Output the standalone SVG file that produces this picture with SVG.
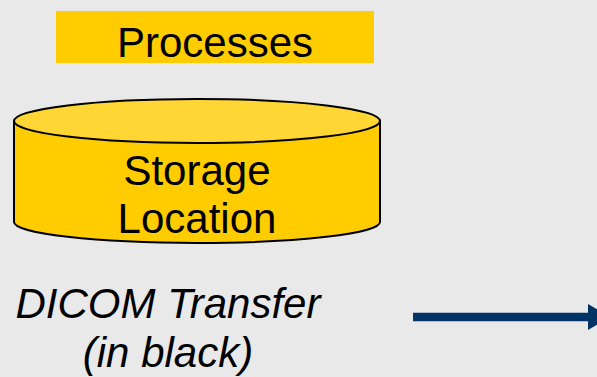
<svg xmlns="http://www.w3.org/2000/svg" width="597" height="377" viewBox="0 0 597 377">
<defs>
<style>
.t{font-family:"Liberation Sans",Arial,sans-serif;font-size:42px;fill:#000;text-anchor:middle}
.i{font-style:italic}
</style>
<marker id="ah" markerUnits="userSpaceOnUse" markerWidth="24" markerHeight="28" refX="0" refY="13" orient="auto" viewBox="0 0 24 28">
<polygon points="0,0 22,13 0,26" fill="#003366"/>
</marker>
</defs>
<rect width="597" height="377" fill="#e9e9e9"/>
<g id="processes">
<rect x="56" y="11" width="318" height="52" fill="#ffcc00"/>
<text class="t" x="215" y="57">Processes</text>
</g>
<g id="storage">
<path d="M14,121 L14,222 A183,21 0 0 0 380,222 L380,121 Z" fill="#ffcc00" stroke="#000" stroke-width="2"/>
<ellipse cx="197" cy="121" rx="183" ry="22" fill="#ffd633" stroke="#000" stroke-width="2"/>
<text class="t" x="197" y="185">Storage</text>
<text class="t" x="197" y="233">Location</text>
</g>
<g id="legend">
<text class="t i" x="168" y="318">DICOM Transfer</text>
<text class="t i" x="168" y="367">(in black)</text>
</g>
<g id="connectors">
<line x1="413" y1="317" x2="588" y2="317" stroke="#003366" stroke-width="8.5" marker-end="url(#ah)"/>
</g>
</svg>
